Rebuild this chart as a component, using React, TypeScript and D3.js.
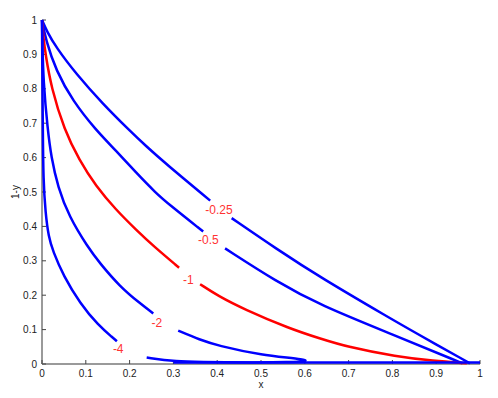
import React from 'react';
import * as d3 from 'd3';

type Pt = [number, number] | null;

// contour levels; null marks a gap left for the label
const levels = ['-0.25', '-0.5', '-1', '-2', '-4'];

const curveA: Pt[] = [
  [0, 1], [0.012, 0.965], [0.032, 0.921], [0.078, 0.843], [0.139, 0.756], [0.199, 0.680], [0.237, 0.634],
  [0.283, 0.582], [0.384, 0.475], null,
  [0.433, 0.424], [0.536, 0.334], [0.635, 0.252], [0.800, 0.129], [0.841, 0.099], [0.977, 0.002],
];
const curveB: Pt[] = [
  [0, 1], [0.009, 0.940], [0.032, 0.853], [0.070, 0.765], [0.123, 0.680], [0.169, 0.620],
  [0.215, 0.556], [0.260, 0.497], [0.290, 0.464], [0.368, 0.385], null,
  [0.418, 0.336], [0.536, 0.239], [0.635, 0.171], [0.800, 0.086], [0.960, 0.002],
];
const curveC: Pt[] = [
  [0, 1], [0.003, 0.950], [0.008, 0.901], [0.021, 0.804], [0.051, 0.680], [0.085, 0.593],
  [0.123, 0.517], [0.169, 0.448], [0.215, 0.390], [0.256, 0.341], [0.313, 0.280], null,
  [0.361, 0.232], [0.402, 0.198], [0.460, 0.160], [0.565, 0.103], [0.635, 0.074], [0.696, 0.050],
  [0.810, 0.021], [0.893, 0.009], [0.970, 0.002],
];
const curveD: Pt[] = [
  [0, 1], [0.001, 0.930], [0.003, 0.824], [0.013, 0.680], [0.021, 0.603], [0.036, 0.515],
  [0.062, 0.428], [0.104, 0.341], [0.132, 0.293], [0.178, 0.225], [0.224, 0.176], [0.254, 0.147], null,
  [0.311, 0.097], [0.361, 0.070], [0.400, 0.054], [0.498, 0.026], [0.608, 0.013], [0.610, 0.004], [0.300, 0.004],
];
const curveE: Pt[] = [
  [0, 1], [0.001, 0.800], [0.002, 0.680], [0.003, 0.535], [0.008, 0.438], [0.015, 0.370],
  [0.025, 0.328], [0.049, 0.256], [0.087, 0.176], [0.128, 0.113], [0.163, 0.075], [0.171, 0.066], null,
  [0.239, 0.019], [0.300, 0.007], [0.400, 0.004], [1, 0.004],
];
const curves = [curveA, curveB, curveC, curveD, curveE];
const curveColors = ['#0000ff', '#0000ff', '#ff0000', '#0000ff', '#0000ff'];

// label anchors in data units
const labelX = [0.404, 0.380, 0.334, 0.262, 0.174];
const labelY = [0.449, 0.360, 0.244, 0.120, 0.044];

const xTicks = [0, 0.1, 0.2, 0.3, 0.4, 0.5, 0.6, 0.7, 0.8, 0.9, 1];
const yTicks = [0, 0.1, 0.2, 0.3, 0.4, 0.5, 0.6, 0.7, 0.8, 0.9, 1];

const W = 498, H = 398;
const font = '"Liberation Sans", Arial, Helvetica, sans-serif';

export default function App() {
  const x = d3.scaleLinear().domain([0, 1]).range([42, 480]);
  const y = d3.scaleLinear().domain([0, 1]).range([364, 20]);

  // basis spline evens out the reading noise in the points
  const line = d3.line<Pt>()
    .defined(d => d !== null)
    .x(d => x((d as [number, number])[0]))
    .y(d => y((d as [number, number])[1]))
    .curve(d3.curveBasis);

  return (
    <svg width={W} height={H} style={{ position: 'absolute', left: 0, top: 0, background: '#fff' }}
      fontFamily={font}>
      {/* axes */}
      <g stroke="#9a9a9a" strokeWidth={2} fill="none">
        <line x1={x(0)} x2={x(1)} y1={y(0)} y2={y(0)} />
        <line x1={x(0)} x2={x(0)} y1={y(0)} y2={y(1)} />
      </g>
      <g stroke="#444" strokeWidth={1}>
        {xTicks.map(t => (
          <line key={'xt' + t} x1={x(t)} x2={x(t)} y1={y(0)} y2={y(0) - 4} />
        ))}
        {yTicks.map(t => (
          <line key={'yt' + t} x1={x(0)} x2={x(0) + 4} y1={y(t)} y2={y(t)} />
        ))}
      </g>
      <g fontSize={10} fill="#222">
        {xTicks.map(t => (
          <text key={'xl' + t} x={x(t)} y={y(0) + 13} textAnchor="middle">{d3.format('~g')(t)}</text>
        ))}
        {yTicks.map(t => (
          <text key={'yl' + t} x={x(0) - 5} y={y(t)} dy="0.35em" textAnchor="end">{d3.format('~g')(t)}</text>
        ))}
        <text x={x(0.5)} y={388} textAnchor="middle">x</text>
        <text transform={`translate(15,${(y(0) + y(1)) / 2}) rotate(-90)`} textAnchor="middle" dy="0.35em">1-y</text>
      </g>

      {/* contour lines */}
      <g fill="none" strokeWidth={2.5} strokeLinejoin="round">
        {curves.map((c, i) => (
          <path key={'c' + i} d={line(c) || ''} stroke={curveColors[i]} />
        ))}
      </g>

      {/* level labels */}
      <g fontSize={12} fill="#ff3333" textAnchor="middle">
        {levels.map((l, i) => (
          <text key={'lab' + l} x={x(labelX[i])} y={y(labelY[i])} dy="0.35em">{l}</text>
        ))}
      </g>
    </svg>
  );
}
